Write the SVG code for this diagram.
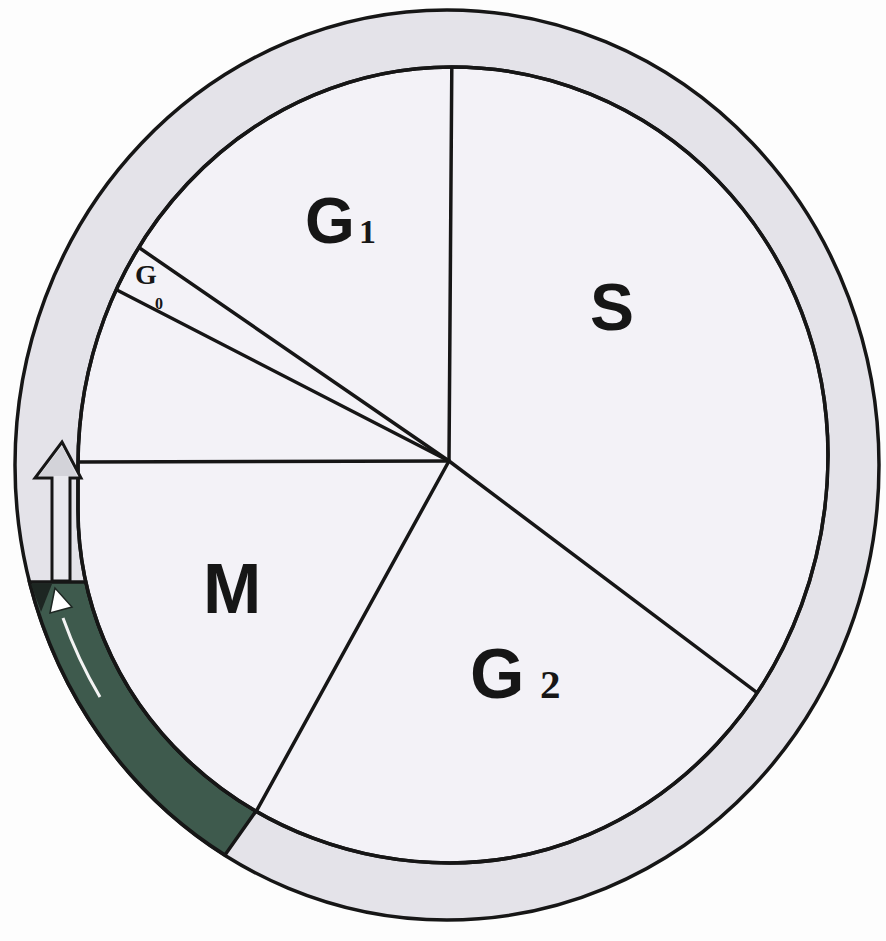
<svg xmlns="http://www.w3.org/2000/svg" width="886" height="941" viewBox="0 0 886 941">
<style>
.ln{stroke:#161616;stroke-width:3.5;fill:none;stroke-linecap:round}
.big{font-family:"Liberation Sans",Arial,sans-serif;font-weight:bold;fill:#161616}
.sub{font-family:"Liberation Serif","Times New Roman",serif;font-weight:bold;fill:#161616}
</style>
<defs>
<path id="innerShape" d="M452,67 A376,388 0 0 1 828,455 A378,408 0 0 1 450,863 A372,353 0 0 1 78,510 L78,465 A374,398 0 0 1 452,67 Z"/>
<clipPath id="innerClip"><use href="#innerShape"/></clipPath>
</defs>
<rect width="886" height="941" fill="#fdfdfd"/>
<g id="ring">
<ellipse cx="447" cy="465" rx="432" ry="455" fill="#e4e3e9" stroke="#161616" stroke-width="3.5"/>
</g>
<g id="green-segment">
<path d="M29.5,582 A432,455 0 0 0 225,855 L256,811 A372,353 0 0 1 86,582 Z" fill="#3e5a4d" stroke="#161616" stroke-width="3.5"/>
<polygon points="31,584 52,584 41,612" fill="#1d2622"/>
</g>
<g id="interior">
<use href="#innerShape" fill="#f3f2f7" stroke="#161616" stroke-width="3.5"/>
</g>
<g id="connectors" clip-path="url(#innerClip)">
<line class="ln" x1="449" y1="461" x2="452" y2="40"/>
<line class="ln" x1="449" y1="461" x2="40" y2="462"/>
<line class="ln" x1="449" y1="461" x2="112" y2="229"/>
<line class="ln" x1="449" y1="461" x2="80" y2="271"/>
<line class="ln" x1="449" y1="461" x2="800" y2="725"/>
<line class="ln" x1="449" y1="461" x2="235" y2="850"/>
</g>
<use href="#innerShape" fill="none" stroke="#161616" stroke-width="3.5"/>
<g id="block-arrow">
<polygon points="62,442 81,478 70,478 70,581 52,581 52,478 35,478" fill="#e9e9ee" stroke="#161616" stroke-width="3"/>
<polygon points="62,446 77,476 39,476" fill="#d3d3d9"/>
</g>
<g id="thin-arrow">
<path d="M100,697 Q78,660 63,618" fill="none" stroke="#f4f4f4" stroke-width="3"/>
<polygon points="55,588 50,613 72,607" fill="#ffffff" stroke="#1d2622" stroke-width="1.5"/>
</g>
<g id="labels">
<g id="label-G1"><text class="big" x="305" y="243" font-size="64">G</text><text class="sub" x="359" y="243" font-size="34">1</text></g>
<g id="label-S"><text class="big" x="590" y="330" font-size="66">S</text></g>
<g id="label-G0"><text class="sub" x="135" y="284" font-size="28" font-weight="normal">G</text><text class="sub" x="155" y="309" font-size="16" font-weight="normal">0</text></g>
<g id="label-M"><text class="big" x="203" y="613" font-size="70">M</text></g>
<g id="label-G2"><text class="big" x="470" y="698" font-size="70">G</text><text class="sub" x="540" y="698" font-size="41">2</text></g>
</g>
</svg>
